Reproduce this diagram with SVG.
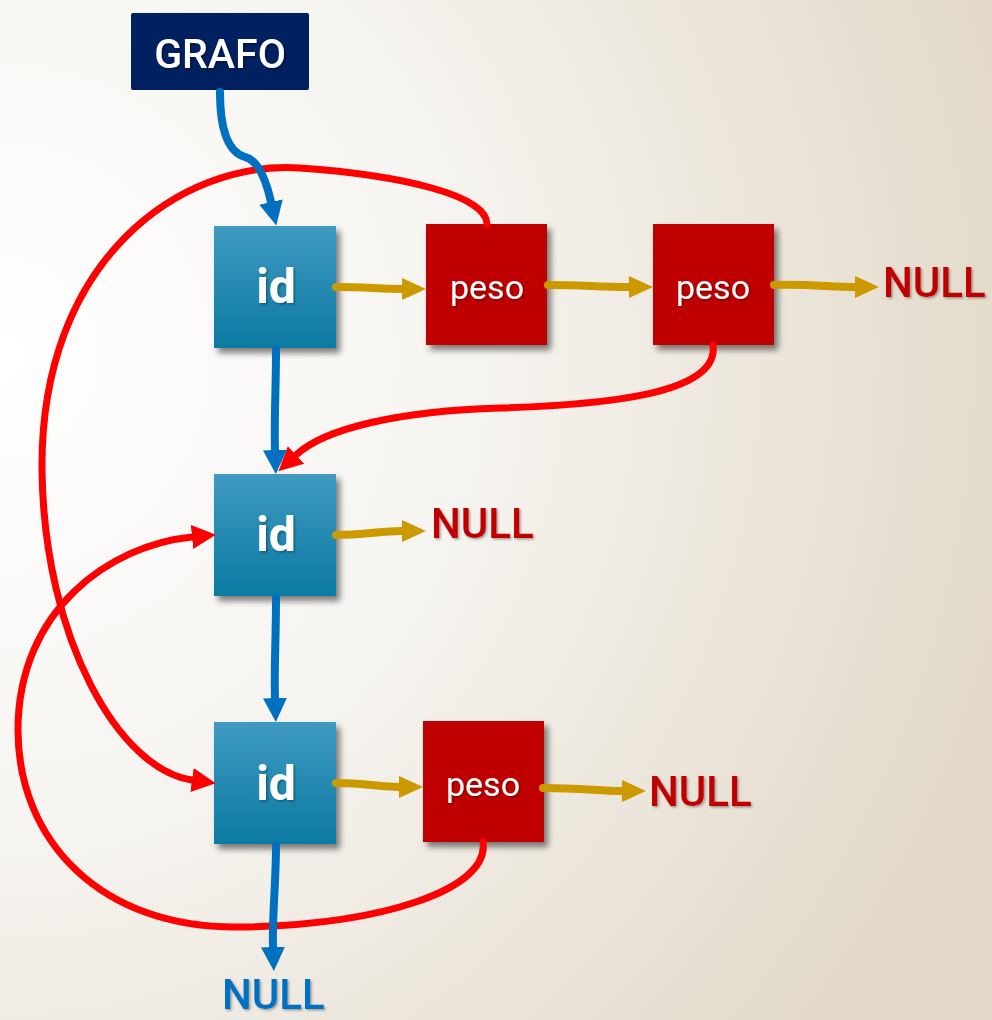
<svg xmlns="http://www.w3.org/2000/svg" width="992" height="1020" viewBox="0 0 992 1020">
  <defs>
    <radialGradient id="bg" cx="0" cy="0.35" r="1.05">
      <stop offset="0" stop-color="#FFFFFF"/>
      <stop offset="0.45" stop-color="#F6F4F0"/>
      <stop offset="1" stop-color="#E2D9C8"/>
    </radialGradient>
    <linearGradient id="idFill" x1="0" y1="0" x2="0" y2="1">
      <stop offset="0" stop-color="#3F9AC1"/>
      <stop offset="1" stop-color="#0C7AA2"/>
    </linearGradient>
    <filter id="boxShadow" x="-20%" y="-20%" width="150%" height="150%">
      <feDropShadow dx="4" dy="5" stdDeviation="3" flood-color="#000" flood-opacity="0.5"/>
    </filter>
    <filter id="textShadow" x="-20%" y="-20%" width="150%" height="150%">
      <feDropShadow dx="1.5" dy="1.5" stdDeviation="1" flood-color="#000" flood-opacity="0.35"/>
    </filter>
    <marker id="headBlue" markerUnits="userSpaceOnUse" markerWidth="26" markerHeight="26" refX="0" refY="13" orient="auto" viewBox="0 0 26 26">
      <path d="M0,1 L24,13 L0,25 z" fill="#0070C0"/>
    </marker>
    <marker id="headGold" markerUnits="userSpaceOnUse" markerWidth="26" markerHeight="26" refX="0" refY="13" orient="auto" viewBox="0 0 26 26">
      <path d="M0,2 L24,13 L0,24 z" fill="#CC9900"/>
    </marker>
    <marker id="headRed" markerUnits="userSpaceOnUse" markerWidth="26" markerHeight="26" refX="0" refY="13" orient="auto" viewBox="0 0 26 26">
      <path d="M0,1 L24,13 L0,25 z" fill="#FF0000"/>
    </marker>
    <style>
      .idBox { fill: url(#idFill); filter: url(#boxShadow); }
      .pesoBox { fill: #C00000; filter: url(#boxShadow); }
      .grafoBox { fill: #002060; }
      .lbl { font-family: Roboto, "Liberation Sans", sans-serif; fill: #FFFFFF; text-anchor: middle; filter: url(#textShadow); }
      .idTxt { font-size: 48px; font-weight: 700; }
      .pesoTxt { font-size: 34px; font-weight: 400; }
      .grafoTxt { font-size: 41px; font-weight: 500; }
      .null { font-family: Roboto, "Liberation Sans", sans-serif; font-size: 42px; font-weight: 500; filter: url(#textShadow); }
      .nullRed { fill: #C00000; }
      .nullBlue { fill: #0070C0; }
      .blue { fill: none; stroke: #0070C0; stroke-width: 8; stroke-linecap: round; marker-end: url(#headBlue); }
      .gold { fill: none; stroke: #CC9900; stroke-width: 8; stroke-linecap: round; marker-end: url(#headGold); }
      .red { fill: none; stroke: #FF0000; stroke-width: 7; stroke-linecap: round; marker-end: url(#headRed); }
    </style>
  </defs>

  <rect x="0" y="0" width="992" height="1020" fill="url(#bg)"/>

  <!-- graph head -->
  <g id="grafo">
    <rect class="grafoBox" x="131" y="13" width="178" height="77" rx="2"/>
    <text class="lbl grafoTxt" x="220" y="68">GRAFO</text>
  </g>

  <!-- vertex nodes -->
  <g id="id1">
    <rect class="idBox" x="214" y="226" width="122" height="122"/>
    <text class="lbl idTxt" x="276" y="303">id</text>
  </g>
  <g id="id2">
    <rect class="idBox" x="214" y="474" width="122" height="122"/>
    <text class="lbl idTxt" x="276" y="551">id</text>
  </g>
  <g id="id3">
    <rect class="idBox" x="214" y="722" width="122" height="122"/>
    <text class="lbl idTxt" x="276" y="800">id</text>
  </g>

  <!-- edge nodes -->
  <g id="peso1">
    <rect class="pesoBox" x="426" y="224" width="121" height="121"/>
    <text class="lbl pesoTxt" x="487" y="299">peso</text>
  </g>
  <g id="peso2">
    <rect class="pesoBox" x="653" y="224" width="121" height="121"/>
    <text class="lbl pesoTxt" x="713" y="299">peso</text>
  </g>
  <g id="peso3">
    <rect class="pesoBox" x="423" y="721" width="121" height="121"/>
    <text class="lbl pesoTxt" x="483" y="796">peso</text>
  </g>

  <!-- list terminators -->
  <g id="null1">
    <text class="null nullRed" x="883" y="297">NULL</text>
  </g>
  <g id="null2">
    <text class="null nullRed" x="431" y="538">NULL</text>
  </g>
  <g id="null3">
    <text class="null nullRed" x="649" y="806">NULL</text>
  </g>
  <g id="null4">
    <text class="null nullBlue" x="222" y="1009">NULL</text>
  </g>

  <!-- pointers -->
  <g id="connectors">
    <!-- edge targets -->
    <path class="red" d="M487,224 C487,195 400,175 300,168 C180,160 40,260 42,470 C44,640 120,770 192,780"/>
    <path class="red" d="M713,345 C720,395 600,405 500,408 C400,411 325,428 296,455"/>
    <path class="red" d="M483,842 C490,890 380,925 240,927 C100,929 18,840 18,730 C18,610 110,545 192,537"/>

    <!-- vertex list -->
    <path class="blue" d="M220,92 C220,130 228,152 245,157 C258,160 266,180 271,202"/>
    <path class="blue" d="M276,350 C276,390 274,420 275,450"/>
    <path class="blue" d="M276,598 C276,640 274,670 275,698"/>
    <path class="blue" d="M276,846 C276,880 272,920 273,947"/>

    <!-- adjacency lists -->
    <path class="gold" d="M336,287 C365,287 380,289 402,289"/>
    <path class="gold" d="M548,285 C580,285 600,287 629,287"/>
    <path class="gold" d="M774,285 C810,284 830,287 855,287"/>
    <path class="gold" d="M336,535 C365,535 380,531 402,531"/>
    <path class="gold" d="M336,783 C365,783 380,787 399,787"/>
    <path class="gold" d="M543,788 C580,788 600,791 622,791"/>
  </g>
</svg>
